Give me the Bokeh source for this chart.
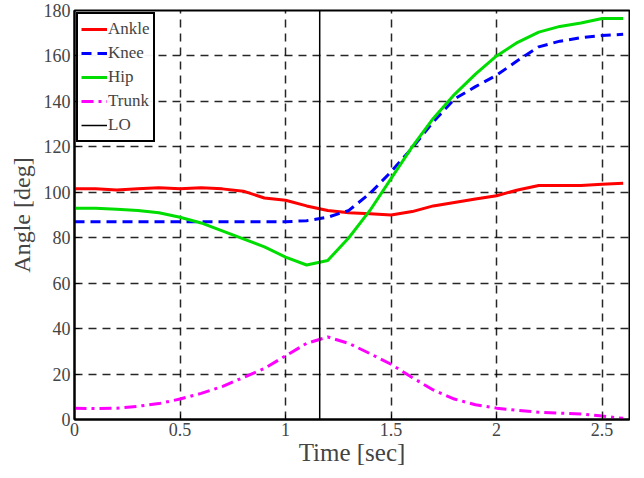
from bokeh.plotting import figure
from bokeh.models import Range1d, Legend, LegendItem, FixedTicker
from bokeh.embed import file_html
from bokeh.resources import INLINE

# ---- data ----
t = [0.0, 0.1, 0.2, 0.3, 0.4, 0.5, 0.6, 0.7, 0.8, 0.9, 1.0, 1.1, 1.2, 1.3,
     1.4, 1.5, 1.6, 1.7, 1.8, 1.9, 2.0, 2.1, 2.2, 2.3, 2.4, 2.5, 2.6]
ankle = [101.5, 101.5, 101, 101.5, 102, 101.5, 102, 101.5, 100.5, 97.5, 96.5, 94, 92, 91,
         90.5, 90, 91.5, 94, 95.5, 97, 98.5, 101, 103, 103, 103, 103.5, 104]
knee = [87, 87, 87, 87, 87, 87, 87, 87, 87, 87, 87, 87.5, 89, 92,
        99.5, 109, 119.5, 131, 141, 146.5, 151.5, 158, 164, 166.5, 168, 169, 169.5]
hip = [93, 93, 92.5, 92, 91, 89, 86.5, 83, 79.5, 76, 71.5, 68, 70, 80,
       92, 106, 120, 132.5, 143, 152, 160, 166, 170.5, 173, 174.5, 176.5, 176.5]
trunk = [5, 4.8, 5, 5.8, 7, 9, 11.5, 14.5, 18.5, 22.5, 28, 33.5, 36.3, 33.5,
         29, 24.3, 18.5, 13, 9, 6.5, 5, 4, 3.2, 2.8, 2.4, 1.5, 0.5]
lo_time = 1.162
y_ticks = [0, 20, 40, 60, 80, 100, 120, 140, 160, 180]
x_ticks = [0, 0.5, 1, 1.5, 2, 2.5]

FONT = "Liberation Serif"

p = figure(width=630, height=468, output_backend="svg", toolbar_location=None,
           x_range=Range1d(0, 2.63), y_range=Range1d(0, 180),
           min_border_left=74, min_border_right=1, min_border_top=10, min_border_bottom=47)
p.outline_line_color = "black"
p.outline_line_width = 2

# grid
p.xgrid.ticker = FixedTicker(ticks=x_ticks)
p.ygrid.ticker = FixedTicker(ticks=y_ticks)
p.xgrid.grid_line_color = "black"
p.ygrid.grid_line_color = "black"
p.xgrid.grid_line_dash = "8 6"
p.ygrid.grid_line_dash = "8 6"
p.xgrid.grid_line_width = 1.5
p.ygrid.grid_line_width = 1.5
p.xgrid.grid_line_alpha = 0.85
p.ygrid.grid_line_alpha = 0.85

# axes
p.xaxis.ticker = FixedTicker(ticks=x_ticks)
p.yaxis.ticker = FixedTicker(ticks=y_ticks)
p.xaxis.major_label_overrides = {0: "0", 0.5: "0.5", 1: "1", 1.5: "1.5", 2: "2", 2.5: "2.5"}
p.xaxis.major_label_text_font = FONT
p.yaxis.major_label_text_font = FONT
p.xaxis.major_label_text_font_size = "18px"
p.yaxis.major_label_text_font_size = "18px"
p.xaxis.axis_line_width = 2
p.yaxis.axis_line_width = 2
p.xaxis.axis_line_color = "black"
p.yaxis.axis_line_color = "black"
p.xaxis.major_tick_in = 5
p.yaxis.major_tick_in = 5
p.xaxis.major_tick_out = 0
p.yaxis.major_tick_out = 0
p.xaxis.major_tick_line_color = "black"
p.yaxis.major_tick_line_color = "black"
p.xaxis.minor_tick_line_color = None
p.yaxis.minor_tick_line_color = None
p.xaxis.major_label_standoff = 3
p.yaxis.major_label_standoff = 4

p.xaxis.axis_label = "Time [sec]"
p.xaxis.axis_label_text_font = FONT
p.xaxis.axis_label_text_font_style = "normal"
p.xaxis.axis_label_text_font_size = "25px"
p.xaxis.axis_label_standoff = 0
p.yaxis.axis_label = "Angle [deg]"
p.yaxis.axis_label_text_font = FONT
p.yaxis.axis_label_text_font_style = "normal"
p.yaxis.axis_label_text_font_size = "24px"
p.yaxis.axis_label_standoff = 6

r_ankle = p.line(t, ankle, line_color="#ff0000", line_width=3)
r_knee = p.line(t, knee, line_color="#0000ff", line_width=3, line_dash="10 6")
r_hip = p.line(t, hip, line_color="#00dd00", line_width=3)
r_trunk = p.line(t, trunk, line_color="#ff00ff", line_width=3, line_dash="12 5 3 5")
r_lo = p.line([lo_time, lo_time], [0, 180], line_color="black", line_width=1.5)

legend = Legend(items=[
    LegendItem(label="Ankle", renderers=[r_ankle]),
    LegendItem(label="Knee", renderers=[r_knee]),
    LegendItem(label="Hip", renderers=[r_hip]),
    LegendItem(label="Trunk", renderers=[r_trunk]),
    LegendItem(label="LO", renderers=[r_lo]),
], location="top_left")
legend.label_text_font = FONT
legend.label_text_font_size = "17px"
legend.margin = 2
legend.padding = 3
legend.spacing = 0
legend.label_height = 22
legend.glyph_height = 24
legend.glyph_width = 26
legend.label_standoff = 1
legend.border_line_color = "black"
legend.border_line_width = 2
legend.border_line_alpha = 1
p.add_layout(legend)

open("out.html", "w").write(file_html(p, INLINE))
